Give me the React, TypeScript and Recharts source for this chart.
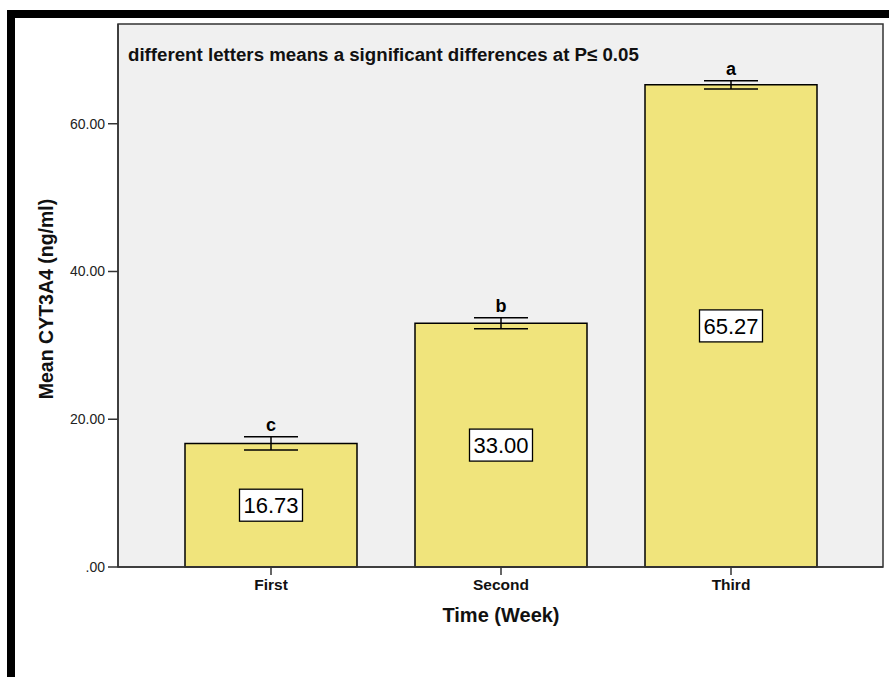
import React from 'react';
import { BarChart, Bar, XAxis, YAxis, CartesianGrid, ErrorBar, LabelList } from 'recharts';

const weeks = ['First', 'Second', 'Third'];
const means = [16.73, 33.0, 65.27];
const errors = [0.9, 0.75, 0.56];
const letters = ['c', 'b', 'a'];
const yTicks = [0, 20, 40, 60];

const FONT = '"Liberation Sans", Arial, sans-serif';

const chartData = weeks.map((week, i) => ({
  week,
  mean: means[i],
  err: errors[i],
  letter: letters[i],
}));

const fmtY = (v: number) => (v === 0 ? '.00' : v.toFixed(2));

// white box with the mean, in the middle of the bar
const ValueBox = (props: any) => {
  const { x, y, width, height, value } = props;
  const cx = x + width / 2;
  const cy = y + height / 2;
  return (
    <g>
      <rect x={cx - 31.5} y={cy - 16} width={63} height={32} fill="#fff" stroke="#000" strokeWidth={1.3} />
      <text x={cx} y={cy + 8} textAnchor="middle" fontSize={22} fontFamily={FONT} fill="#000">
        {Number(value).toFixed(2)}
      </text>
    </g>
  );
};

// significance letter above the error bar
const LetterLabel = (props: any) => {
  const { x, y, width, height, index } = props;
  const d = chartData[index];
  const pxPerUnit = height / d.mean;
  const top = y - d.err * pxPerUnit;
  return (
    <text x={x + width / 2} y={top - 6} textAnchor="middle" fontSize={18} fontWeight="bold" fontFamily={FONT} fill="#000">
      {d.letter}
    </text>
  );
};

export default function App() {
  return (
    <div style={{ position: 'absolute', left: 0, top: 0, width: 889, height: 677, background: '#fff', overflow: 'hidden' }}>
      <div style={{ position: 'absolute', left: 7, top: 10, width: 882, height: 8, background: '#000' }} />
      <div style={{ position: 'absolute', left: 7, top: 10, width: 8, height: 667, background: '#000' }} />

      <div style={{ position: 'absolute', left: 0, top: 0 }}>
        <BarChart width={889} height={677} data={chartData} margin={{ top: 24, right: 6, bottom: 0, left: 0 }}>
          <CartesianGrid fill="#F0F0F0" horizontal={false} vertical={false} />
          <XAxis
            dataKey="week"
            height={110}
            padding={{ left: 38, right: 37 }}
            tickSize={8}
            tickMargin={4}
            axisLine={{ stroke: '#333', strokeWidth: 1.5 }}
            tickLine={{ stroke: '#333', strokeWidth: 1.5 }}
            tick={{ fontSize: 15.5, fontWeight: 'bold', fill: '#111', fontFamily: FONT }}
          />
          <YAxis
            width={118}
            domain={[0, 73.5]}
            ticks={yTicks}
            tickFormatter={fmtY}
            tickSize={10}
            tickMargin={3}
            axisLine={{ stroke: '#333', strokeWidth: 1.5 }}
            tickLine={{ stroke: '#333', strokeWidth: 1.5 }}
            tick={{ fontSize: 14, fill: '#222', fontFamily: FONT }}
          />
          <Bar dataKey="mean" barSize={172} fill="#F0E47C" stroke="#000" strokeWidth={1.5} isAnimationActive={false}>
            <ErrorBar dataKey="err" width={27} stroke="#000" strokeWidth={1.5} direction="y" />
            <LabelList dataKey="mean" content={ValueBox} />
            <LabelList dataKey="letter" content={LetterLabel} />
          </Bar>
        </BarChart>
      </div>

      <svg width={889} height={677} style={{ position: 'absolute', left: 0, top: 0, pointerEvents: 'none' }}>
        <rect x={118} y={24} width={765} height={543} fill="none" stroke="#333" strokeWidth={1.5} />
        <text x={128} y={61} fontSize={18.7} fontWeight="bold" fontFamily={FONT} fill="#111">
          different letters means a significant differences at P≤ 0.05
        </text>
        <text
          x={53}
          y={299}
          transform="rotate(-90 53 299)"
          textAnchor="middle"
          fontSize={19.5}
          fontWeight="bold"
          fontFamily={FONT}
          fill="#111"
        >
          Mean CYT3A4 (ng/ml)
        </text>
        <text x={501} y={622} textAnchor="middle" fontSize={20} fontWeight="bold" fontFamily={FONT} fill="#111">
          Time (Week)
        </text>
      </svg>
    </div>
  );
}
